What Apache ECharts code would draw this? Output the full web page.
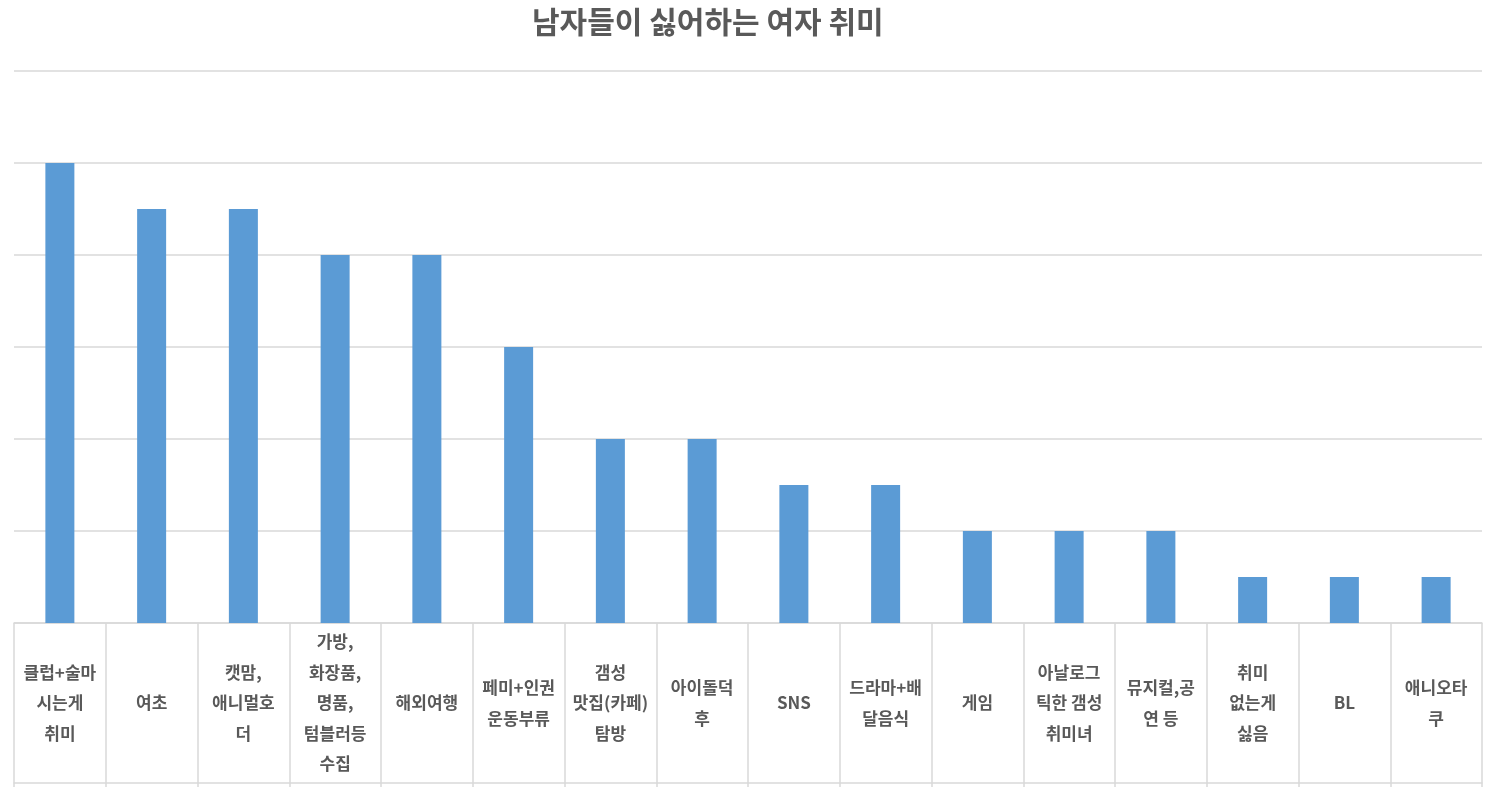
<!DOCTYPE html>
<html><head><meta charset="utf-8">
<script src="https://cdn.jsdelivr.net/npm/echarts@6/dist/echarts.min.js"></script>
<style>html,body{margin:0;padding:0;background:#fff}#c{width:1485px;height:787px}</style>
</head><body><div id="c"></div>
<script>
const titleText = '남자들이 싫어하는 여자 취미';
const categories = [
  '클럽+술마\n시는게\n취미', '여초', '캣맘,\n애니멀호\n더', '가방,\n화장품,\n명품,\n텀블러등\n수집',
  '해외여행', '페미+인권\n운동부류', '갬성\n맛집(카페)\n탐방', '아이돌덕\n후', 'SNS',
  '드라마+배\n달음식', '게임', '아날로그\n틱한 갬성\n취미녀', '뮤지컬,공\n연 등', '취미\n없는게\n싫음', 'BL', '애니오타\n쿠'
];
const values = [10, 9, 9, 8, 8, 6, 4, 4, 3, 3, 2, 2, 2, 1, 1, 1];
const yTicks = { min: 0, max: 12, interval: 2 };

const font = '"Noto Sans CJK KR", "Noto Sans", sans-serif';
const gridColor = '#d9d9d9';
const chart = echarts.init(document.getElementById('c'), null, { renderer: 'canvas' });
chart.setOption({
  animation: false,
  backgroundColor: '#fff',
  title: {
    text: titleText,
    left: 527, top: 2,
    textStyle: { fontFamily: font, fontSize: 30, fontWeight: 'bold', color: '#595959' }
  },
  grid: { left: 14, right: 3, top: 71, bottom: 164, containLabel: false },
  xAxis: [{
    type: 'category',
    data: categories,
    axisLine: { show: true, lineStyle: { color: gridColor, width: 1.5 } },
    axisTick: { show: true, length: 166, lineStyle: { color: gridColor, width: 1.5 } },
    axisLabel: {
      interval: 0, margin: 80, verticalAlign: 'middle',
      fontFamily: font, fontSize: 17, fontWeight: 'bold', color: '#595959', lineHeight: 30.5, align: 'center'
    }
  }, {
    type: 'category',
    data: categories,
    position: 'bottom',
    offset: 160,
    axisLine: { show: true, lineStyle: { color: gridColor, width: 1.5 } },
    axisTick: { show: false },
    axisLabel: { show: false }
  }],
  yAxis: {
    type: 'value', min: yTicks.min, max: yTicks.max, interval: yTicks.interval,
    axisLabel: { show: false }, axisLine: { show: false }, axisTick: { show: false },
    splitLine: { lineStyle: { color: gridColor, width: 1.5 } }
  },
  series: [{
    type: 'bar', data: values, barWidth: 29, xAxisIndex: 0,
    itemStyle: { color: '#5b9bd5' }
  }]
});
</script></body></html>
